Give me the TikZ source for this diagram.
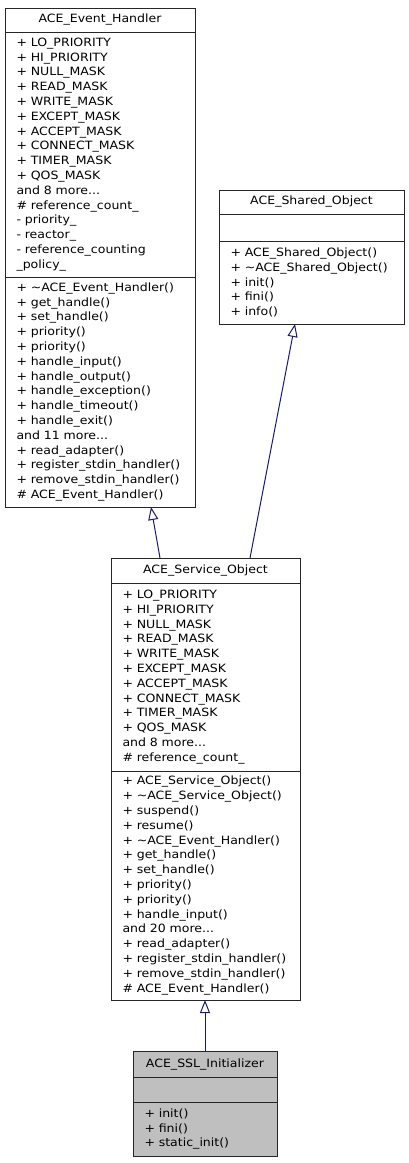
\documentclass[tikz,border=0pt]{standalone}
\usepackage{fontspec}
\setmainfont{DejaVu Sans}[FakeStretch=1.1]
\usetikzlibrary{arrows.meta,positioning}
\definecolor{inhcol}{HTML}{191970}
\definecolor{curcol}{HTML}{BFBFBF}

\begin{document}
\begin{tikzpicture}[
  x=1pt, y=1pt,
  font=\fontsize{11.4}{14.8}\selectfont,
  box/.style={draw=black!85, line width=1pt, fill=white, outer sep=0pt,
              inner xsep=11.5pt, inner ysep=0pt},
  head/.style={box, align=center, anchor=north west},
  sect/.style={box, align=left},
  inh/.style={draw=inhcol, line width=1pt,
              -{Triangle[open,length=13pt,width=10pt]}},
]
\useasboundingbox (0,0) rectangle (409,-1163);

\node[head, text width=167pt, minimum height=24pt] (handler) at (5,-8)
  {ACE\_Event\_Handler};
\node[sect, text width=167pt, minimum height=245pt, below=0pt of handler] (handlerattr)
  {+ LO\_PRIORITY\\+ HI\_PRIORITY\\+ NULL\_MASK\\+ READ\_MASK\\+ WRITE\_MASK\\
   + EXCEPT\_MASK\\+ ACCEPT\_MASK\\+ CONNECT\_MASK\\+ TIMER\_MASK\\+ QOS\_MASK\\
   and 8 more...\\\# reference\_count\_\\- priority\_\\- reactor\_\\
   - reference\_counting\\\_policy\_};
\node[sect, text width=167pt, minimum height=230pt, below=0pt of handlerattr] (handlerops)
  {+ \textasciitilde ACE\_Event\_Handler()\\+ get\_handle()\\+ set\_handle()\\
   + priority()\\+ priority()\\+ handle\_input()\\+ handle\_output()\\
   + handle\_exception()\\+ handle\_timeout()\\+ handle\_exit()\\
   and 11 more...\\+ read\_adapter()\\+ register\_stdin\_handler()\\
   + remove\_stdin\_handler()\\\# ACE\_Event\_Handler()};

\node[head, text width=162pt, minimum height=24pt] (shared) at (219,-190)
  {ACE\_Shared\_Object};
\node[sect, text width=162pt, minimum height=27pt, below=0pt of shared] (sharedattr) {};
\node[sect, text width=162pt, minimum height=83pt, below=0pt of sharedattr] (sharedops)
  {+ ACE\_Shared\_Object()\\+ \textasciitilde ACE\_Shared\_Object()\\+ init()\\
   + fini()\\+ info()};

\node[head, text width=166pt, minimum height=25pt] (service) at (111,-558)
  {ACE\_Service\_Object};
\node[sect, text width=166pt, minimum height=188pt, below=0pt of service] (serviceattr)
  {+ LO\_PRIORITY\\+ HI\_PRIORITY\\+ NULL\_MASK\\+ READ\_MASK\\+ WRITE\_MASK\\
   + EXCEPT\_MASK\\+ ACCEPT\_MASK\\+ CONNECT\_MASK\\+ TIMER\_MASK\\+ QOS\_MASK\\
   and 8 more...\\\# reference\_count\_};
\node[sect, text width=166pt, minimum height=229pt, below=0pt of serviceattr] (serviceops)
  {+ ACE\_Service\_Object()\\+ \textasciitilde ACE\_Service\_Object()\\+ suspend()\\
   + resume()\\+ \textasciitilde ACE\_Event\_Handler()\\+ get\_handle()\\
   + set\_handle()\\+ priority()\\+ priority()\\+ handle\_input()\\
   and 20 more...\\+ read\_adapter()\\+ register\_stdin\_handler()\\
   + remove\_stdin\_handler()\\\# ACE\_Event\_Handler()};

\node[head, fill=curcol, text width=121pt, minimum height=26pt] (ssl) at (133,-1051)
  {ACE\_SSL\_Initializer};
\node[sect, fill=curcol, text width=121pt, minimum height=25pt, below=0pt of ssl] (sslattr) {};
\node[sect, fill=curcol, text width=121pt, minimum height=54pt, below=0pt of sslattr] (sslops)
  {+ init()\\+ fini()\\+ static\_init()};

\draw[inh] ([xshift=49pt]service.north west) -- ([xshift=146pt]handlerops.south west);
\draw[inh] ([xshift=139pt]service.north west) -- ([xshift=76pt]sharedops.south west);
\draw[inh] (ssl.north) -- ([xshift=94pt]serviceops.south west);
\end{tikzpicture}
\end{document}
